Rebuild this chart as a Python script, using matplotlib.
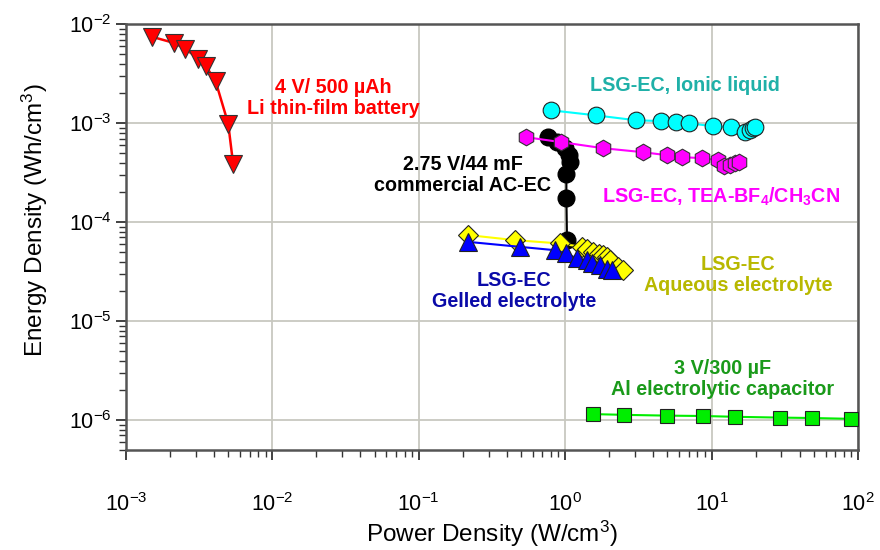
import matplotlib
matplotlib.use('Agg')
import matplotlib.pyplot as plt
import numpy as np

plt.rcParams['font.family'] = ['Liberation Sans', 'DejaVu Sans']
plt.rcParams['mathtext.fontset'] = 'custom'
plt.rcParams['mathtext.rm'] = 'Liberation Sans'
plt.rcParams['mathtext.it'] = 'Liberation Sans:italic'
plt.rcParams['mathtext.bf'] = 'Liberation Sans:bold'

# Li thin-film battery
li_p = [1.52e-3, 2.13e-3, 2.53e-3, 3.12e-3, 3.52e-3, 4.10e-3, 5.0e-3, 5.41e-3]
li_e = [7.44e-3, 6.47e-3, 5.68e-3, 4.5e-3, 3.77e-3, 2.66e-3, 9.9e-4, 3.83e-4]

# LSG-EC, ionic liquid
il_p = [0.80, 1.62, 3.05, 4.51, 5.71, 7.01, 10.2, 13.6, 16.9, 18.3, 19.2, 19.8]
il_e = [1.35e-3, 1.20e-3, 1.07e-3, 1.05e-3, 1.02e-3, 1.0e-3, 9.3e-4, 9.1e-4,
        8.1e-4, 8.5e-4, 8.9e-4, 9.1e-4]

# LSG-EC, TEA-BF4 / acetonitrile
tea_p = [0.54, 0.94, 1.81, 3.40, 4.95, 6.28, 8.6, 11.1, 12.2, 13.4, 14.5, 15.4]
tea_e = [7.22e-4, 6.43e-4, 5.59e-4, 5.09e-4, 4.75e-4, 4.54e-4, 4.43e-4, 4.23e-4,
         3.68e-4, 3.77e-4, 3.95e-4, 4.04e-4]

# commercial activated-carbon EC
ac_p = [0.76, 0.875, 1.0, 1.07, 1.08, 1.02, 1.02, 1.03]
ac_e = [7.27e-4, 6.47e-4, 5.55e-4, 4.75e-4, 4.06e-4, 3.10e-4, 1.77e-4, 6.58e-5]

# LSG-EC, aqueous electrolyte
aq_p = [0.218, 0.454, 0.92, 1.30, 1.42, 1.56, 1.70, 1.82, 1.92, 2.02, 2.31, 2.49]
aq_e = [7.4e-5, 6.58e-5, 6.09e-5, 5.63e-5, 5.3e-5, 5.0e-5, 4.8e-5, 4.64e-5,
        4.4e-5, 4.13e-5, 3.53e-5, 3.27e-5]

# LSG-EC, gelled electrolyte
gel_p = [0.218, 0.491, 0.85, 1.02, 1.20, 1.40, 1.52, 1.73, 1.92, 2.08]
gel_e = [6.32e-5, 5.63e-5, 5.21e-5, 4.83e-5, 4.30e-5, 4.13e-5, 3.83e-5, 3.68e-5,
         3.40e-5, 3.27e-5]

# Al electrolytic capacitor
al_p = [1.54, 2.54, 4.93, 8.77, 14.5, 29.3, 48.3, 89.0]
al_e = [1.15e-6, 1.13e-6, 1.11e-6, 1.10e-6, 1.08e-6, 1.06e-6, 1.05e-6, 1.03e-6]

fig = plt.figure(figsize=(8.8, 5.5), dpi=100)
ax = fig.add_axes([0.143, 0.182, 0.832, 0.774])

ax.plot(ac_p, ac_e, '-o', color='black', mfc='black', mec='black', ms=12, lw=1.5, zorder=3)
ax.plot(aq_p, aq_e, '-D', color='#ffff00', mfc='#ffff00', mec='#222222', ms=10, mew=0.8, lw=1.5, zorder=4)
ax.plot(gel_p, gel_e, '-^', color='#0000ff', mfc='#0000ff', mec='#222222', ms=12.5, mew=0.8, lw=1.5, zorder=5)
ax.plot(tea_p, tea_e, '-h', color='#ff00ff', mfc='#ff00ff', mec='#333333', ms=12, mew=0.8, lw=1.5, zorder=6)
ax.plot(il_p, il_e, '-o', color='#00ffff', mfc='#00ffff', mec='#222222', ms=12, mew=0.8, lw=1.5, zorder=6)
ax.plot(al_p, al_e, '-s', color='#00ee00', mfc='#00ee00', mec='#222222', ms=10.5, mew=0.8, lw=1.5, zorder=6)
ax.plot(li_p, li_e, '-v', color='#ff0000', mfc='#ff0000', mec='#333333', ms=12.5, mew=0.8, lw=1.8, zorder=6)

ax.set_xscale('log')
ax.set_yscale('log')
ax.set_xlim(1e-3, 1e2)
ax.set_ylim(5e-7, 1e-2)

ax.grid(True, which='major', color='#c8c8c0', lw=1.3)
ax.set_axisbelow(True)
for s in ax.spines.values():
    s.set_color('#555555')
    s.set_linewidth(1.8)

ax.tick_params(axis='both', which='major', direction='out', length=7, width=1.3,
               color='#333333', labelsize=15.5)
ax.tick_params(axis='both', which='minor', direction='out', length=5, width=1.0,
               color='#333333')
ax.tick_params(axis='x', which='major', pad=24)
ax.tick_params(axis='y', which='major', pad=3)
ax.minorticks_on()

ax.set_xlabel('Power Density (W/cm$^3$)', fontsize=17.5, labelpad=2)
ax.set_ylabel('Energy Density (Wh/cm$^3$)', fontsize=17.5)
ax.yaxis.set_label_coords(-0.103, 0.54)

bold = dict(fontsize=14.2, fontweight='bold', ha='center', va='center', linespacing=1.15)
ax.text(2.6e-2, 1.8e-3, '4 V/ 500 µAh\nLi thin-film battery', color='#ff0000', **bold)
ax.text(6.6, 2.42e-3, 'LSG-EC, Ionic liquid', color='#1fb0a8', **bold)
ax.text(0.2, 3.0e-4, '2.75 V/44 mF\ncommercial AC-EC', color='black', **bold)
ax.text(11.7, 1.8e-4, r'LSG-EC, TEA-BF$_\mathbf{4}$/CH$_\mathbf{3}$CN', color='#ff00ff', **bold)
ax.text(0.45, 2.0e-5, 'LSG-EC\nGelled electrolyte', color='#0a0aa8', **bold)
ax.text(15.1, 2.9e-5, 'LSG-EC\nAqueous electrolyte', color='#b8b800', **bold)
ax.text(11.8, 2.6e-6, '3 V/300 µF\nAl electrolytic capacitor', color='#1a9a1a', **bold)

plt.savefig('out.png', dpi=100)
